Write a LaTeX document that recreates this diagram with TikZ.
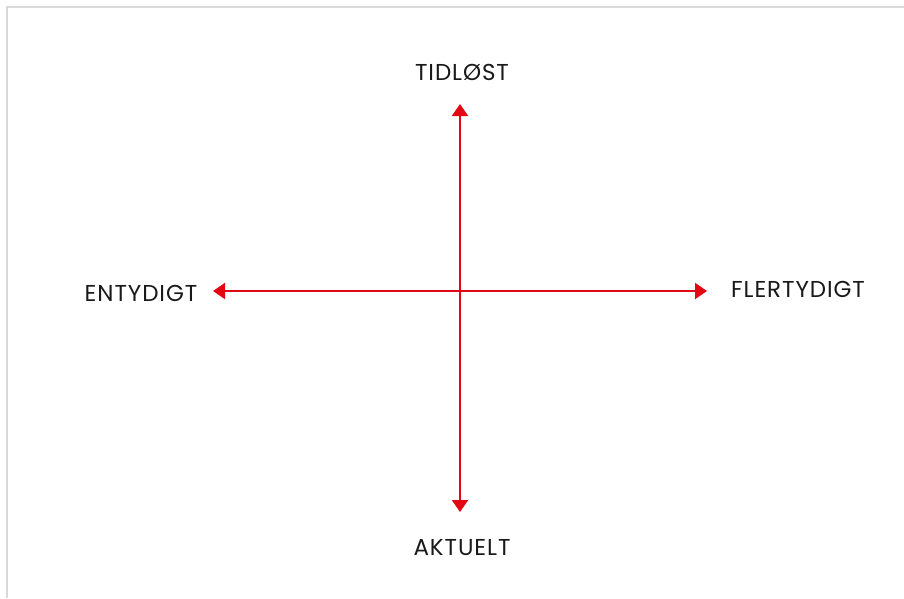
\documentclass[tikz,border=0pt]{standalone}
\usepackage{fontspec}
\setmainfont{Poppins}[LetterSpace=4]
\usetikzlibrary{arrows.meta}
\definecolor{axisred}{HTML}{E30613}
\definecolor{frame}{HTML}{D9D9D9}
\tikzset{
  axis/.style={draw=axisred, line width=2pt, {Triangle[length=12pt,width=16pt]}-{Triangle[length=12pt,width=16pt]}},
  lbl/.style={font=\fontsize{23}{27}\selectfont, text=black!90, inner sep=0pt}
}
\begin{document}
\begin{tikzpicture}[x=1pt,y=-1pt]
\useasboundingbox[fill=white] (0,0) rectangle (904,598);
\draw[frame, line width=1.5pt] (7,598) -- (7,7) -- (904,7);
\coordinate (top) at (460,104);
\coordinate (bot) at (460,512);
\coordinate (lft) at (213,291);
\coordinate (rgt) at (707,291);
\draw[axis] (bot) -- (top);
\draw[axis] (lft) -- (rgt);
\node[lbl] (t) at (462,72) {TIDLØST};
\node[lbl] (b) at (462,548) {AKTUELT};
\node[lbl] (l) at (141,293) {ENTYDIGT};
\node[lbl] (r) at (798,289) {FLERTYDIGT};
\end{tikzpicture}
\end{document}
